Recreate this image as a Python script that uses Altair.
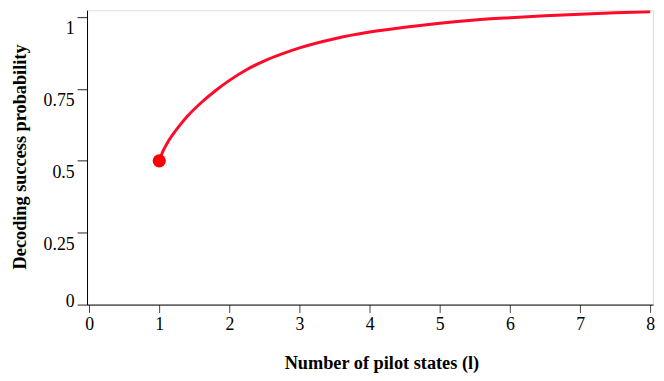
import altair as alt
import pandas as pd

# Curve: decoding success probability vs number of pilot states
l_vals = [1, 1.05, 1.1, 1.2, 1.3, 1.4, 1.6, 1.8, 2.0, 2.25, 2.5, 2.75, 3.0, 3.5,
          4.0, 4.5, 5.0, 5.5, 6.0, 6.5, 7.0, 7.5, 8.0]
p_vals = [0.500, 0.532, 0.556, 0.594, 0.626, 0.655, 0.703, 0.744, 0.780, 0.818,
          0.848, 0.872, 0.893, 0.925, 0.948, 0.965, 0.979, 0.990, 0.998, 1.005,
          1.010, 1.015, 1.019]

# Highlighted point
pt_l = [1]
pt_p = [0.5]

x_ticks = [0, 1, 2, 3, 4, 5, 6, 7, 8]
y_ticks = [0, 0.25, 0.5, 0.75, 1]

curve = pd.DataFrame({"l": l_vals, "p": p_vals})
point = pd.DataFrame({"l": pt_l, "p": pt_p})

FONT = "Liberation Serif"

x_scale = alt.Scale(domain=[-0.03, 8.04], nice=False, zero=False)
y_scale = alt.Scale(domain=[0, 1.024], nice=False)

x_axis = alt.Axis(
    title="Number of pilot states (l)",
    values=x_ticks,
    format="d",
    grid=False,
    domainColor="black",
    tickColor="#444",
    tickSize=8,
    labelPadding=3,
    labelFont=FONT,
    labelFontSize=18,
    labelColor="black",
    titleFont=FONT,
    titleFontSize=18.5,
    titleFontWeight="bold",
    titleColor="black",
    titleX=298,
    titleY=59,
    titleBaseline="middle",
    titleAlign="center",
)

y_axis = alt.Axis(
    title="Decoding success probability",
    values=y_ticks,
    labelExpr="datum.value == 0 ? '0' : datum.value == 1 ? '1' : format(datum.value, '.2~f')",
    grid=False,
    domainColor="black",
    tickColor="#222",
    tickSize=10,
    labelPadding=3,
    labelOffset=alt.ExprRef("datum.value == 0 ? -3 : 12"),
    labelFont=FONT,
    labelFontSize=18,
    labelColor="black",
    titleFont=FONT,
    titleFontSize=18.5,
    titleFontWeight="bold",
    titleColor="black",
    titleAngle=-90,
    titleX=-68,
    titleY=148,
    titleAlign="center",
    titleBaseline="middle",
)

line = alt.Chart(curve).mark_line(
    color="#ff0a2a", strokeWidth=3, interpolate="monotone", clip=True
).encode(
    x=alt.X("l:Q", scale=x_scale, axis=x_axis),
    y=alt.Y("p:Q", scale=y_scale, axis=y_axis),
)

dot = alt.Chart(point).mark_circle(color="#ff0000", opacity=1, size=180).encode(
    x=alt.X("l:Q", scale=x_scale),
    y=alt.Y("p:Q", scale=y_scale),
)

chart = (
    alt.layer(line, dot)
    .properties(
        width=573,
        height=298,
        autosize=alt.AutoSizeParams(type="none"),
        padding={"left": 80, "top": 0, "right": 3, "bottom": 67},
    )
    .configure_view(stroke="#cccccc", strokeWidth=1.5)
    .configure(background="white")
)

chart.save("out.html", embed_options={"renderer": "svg", "actions": False})
